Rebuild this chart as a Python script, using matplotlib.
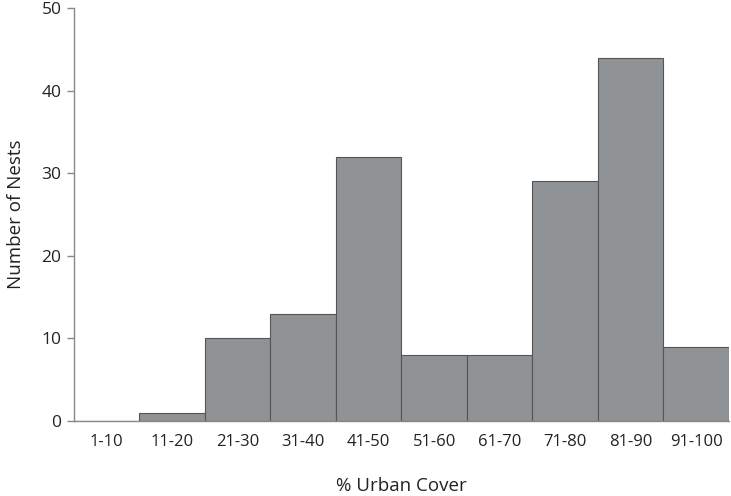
import matplotlib
matplotlib.use('Agg')
import matplotlib.pyplot as plt

# Nest counts per urban cover class
categories = ['1-10', '11-20', '21-30', '31-40', '41-50',
              '51-60', '61-70', '71-80', '81-90', '91-100']
nests = [0, 1, 10, 13, 32, 8, 8, 29, 44, 9]
yticks = [0, 10, 20, 30, 40, 50]

plt.rcParams['font.family'] = ['Open Sans', 'DejaVu Sans']

fig = plt.figure(figsize=(7.31, 4.96), dpi=100)
ax = fig.add_axes([0.1012, 0.151, 0.896, 0.833])

x = list(range(len(categories)))
ax.bar(x, nests, width=1.0, color='#909396', edgecolor='#555555', linewidth=0.8)

ax.set_xlim(-0.5, len(categories) - 0.5)
ax.set_ylim(0, 50)
ax.set_yticks(yticks)
ax.set_xticks(x)
ax.set_xticklabels(categories, fontsize=12, color='#222222')
ax.tick_params(axis='y', labelsize=12.5, labelcolor='#222222', length=5,
               color='#888888', width=1, pad=4)
ax.tick_params(axis='x', length=0, pad=9)

for side in ['top', 'right']:
    ax.spines[side].set_visible(False)
ax.spines['left'].set_color('#888888')
ax.spines['bottom'].set_color('#888888')
ax.spines['left'].set_linewidth(1)
ax.spines['bottom'].set_linewidth(1)

ax.set_xlabel('% Urban Cover', fontsize=13.5, color='#222222', labelpad=20)
ax.set_ylabel('Number of Nests', fontsize=13.5, color='#222222', labelpad=12)

fig.savefig('out.png', dpi=100)
